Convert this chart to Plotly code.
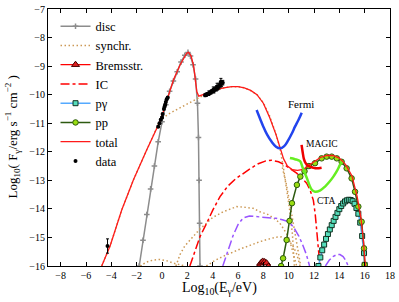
import plotly.graph_objects as go

# ---------------- data ----------------
disc_x = [-1.8, -1.5, -1.2, -0.9, -0.6, -0.3, 0.0, 0.3, 0.6, 0.9, 1.2, 1.5, 1.8, 2.05, 2.25, 2.45, 2.65, 2.8, 2.88, 2.93, 2.97, 3.0]
disc_y = [-16.0, -15.1, -14.2, -13.3, -12.5, -11.65, -10.95, -10.35, -9.88, -9.52, -9.2, -8.86, -8.62, -8.52, -8.65, -8.95, -9.45, -10.3, -11.5, -13.0, -14.5, -16.0]

syn1_x = [-4.76, -4.1, -3.18, -2.26, -1.21, -0.6, -0.15, 0.5, 1.0, 1.5, 2.0, 2.5, 3.0, 3.5, 4.0, 4.5, 5.0, 5.5, 6.0, 6.5, 7.0, 7.5, 8.0, 8.5, 9.0, 9.3, 9.6, 9.85, 10.1, 10.3, 10.45]
syn1_y = [-16.0, -15.3, -14.04, -12.99, -11.94, -11.35, -10.9, -10.68, -10.56, -10.45, -10.33, -10.22, -10.1, -9.97, -9.88, -9.8, -9.75, -9.72, -9.72, -9.76, -9.86, -10.0, -10.28, -10.75, -11.38, -11.85, -12.6, -13.3, -14.1, -14.9, -16.0]
syn2_x = [-1.74, -1.2, -0.68, -0.16, 0.4, 0.9, 1.8]
syn2_y = [-16.0, -15.86, -15.79, -15.77, -15.82, -15.9, -16.0]
syn3_x = [1.1, 1.42, 1.8, 2.47, 3.0, 3.53, 4.0, 4.84, 5.5, 5.9, 6.5, 7.2, 7.73, 8.39, 9.0, 9.3, 9.6, 9.97, 10.2, 10.4, 10.63]
syn3_y = [-16.0, -15.6, -15.3, -14.97, -14.7, -14.5, -14.3, -14.1, -13.97, -13.92, -13.94, -13.98, -14.1, -14.2, -14.38, -14.5, -14.7, -14.97, -15.3, -15.65, -16.0]
syn4_x = [3.5, 4.2, 4.84, 5.5, 6.2, 7.0, 7.7, 8.4, 9.0, 9.4, 9.8, 10.1, 10.4, 10.65, 10.9]
syn4_y = [-16.0, -15.8, -15.66, -15.52, -15.4, -15.27, -15.15, -15.06, -14.99, -14.98, -15.05, -15.15, -15.35, -15.6, -16.0]
syn5_x = [9.5, 9.8, 10.05, 10.3, 10.55, 10.75, 10.95]
syn5_y = [-12.55, -13.1, -13.7, -14.3, -14.9, -15.5, -16.0]

brem_x = [7.65, 7.8, 7.95, 8.1, 8.25, 8.4]
brem_y = [-16.02, -15.9, -15.84, -15.86, -15.9, -16.02]

ic_x = [2.2, 2.6, 3.0, 3.53, 4.0, 4.58, 5.2, 5.8, 6.4, 7.0, 7.6, 8.2, 8.66, 9.2, 9.7, 10.2, 10.63, 11.0, 11.42, 11.7, 11.95, 12.1, 12.25, 12.35, 12.47]
ic_y = [-16.0, -15.5, -14.97, -14.5, -14.05, -13.57, -13.2, -12.95, -12.75, -12.58, -12.42, -12.32, -12.3, -12.35, -12.46, -12.6, -12.75, -12.9, -13.1, -13.35, -13.7, -14.2, -14.85, -15.35, -16.0]

ic2_x = [4.8, 5.2, 5.6, 6.0, 6.4, 6.9, 7.5, 8.0, 8.5, 9.0, 9.5, 10.0, 10.4, 10.8, 11.1, 11.4, 11.65]
ic2_y = [-16.0, -15.45, -14.95, -14.55, -14.32, -14.25, -14.27, -14.28, -14.3, -14.33, -14.38, -14.45, -14.65, -14.95, -15.25, -15.6, -16.0]
ic3_x = [12.9, 13.2, 13.5, 13.8, 14.05, 14.3, 14.5, 14.7]
ic3_y = [-16.0, -15.8, -15.67, -15.6, -15.6, -15.67, -15.8, -16.0]

pg_x = [12.35, 12.5, 12.65, 12.8, 12.95, 13.1, 13.25, 13.4, 13.55, 13.7, 13.85, 14.0, 14.15, 14.3, 14.45, 14.6, 14.75, 14.9, 15.05, 15.2, 15.35, 15.5, 15.65, 15.8, 15.95, 16.0]
pg_y = [-16.0, -15.7, -15.45, -15.25, -15.05, -14.88, -14.72, -14.57, -14.42, -14.28, -14.14, -14.01, -13.9, -13.81, -13.74, -13.7, -13.68, -13.69, -13.73, -13.82, -13.97, -14.17, -14.48, -14.95, -15.55, -15.96]

pp_x = [9.4, 9.56, 9.84, 10.07, 10.26, 10.65, 10.92, 11.25, 11.6, 12.08, 12.6, 13.0, 13.4, 13.8, 14.18, 14.58, 14.97, 15.24, 15.5, 15.76, 15.95, 16.0]
pp_y = [-16.0, -15.73, -15.09, -14.42, -13.8, -13.16, -12.87, -12.68, -12.5, -12.4, -12.23, -12.17, -12.17, -12.23, -12.35, -12.58, -12.93, -13.4, -13.92, -14.45, -15.38, -15.96]

tot_x = [-4.76, -4.1, -3.18, -2.26, -1.21, -0.29, 0.1, 0.5, 0.9, 1.42, 1.95, 2.1, 2.3, 2.5, 2.65, 2.75, 2.9, 3.2, 3.5, 4.0, 4.5, 5.0, 5.5, 6.0, 6.5, 7.0, 7.5, 8.0, 8.5, 9.0, 9.3, 9.6, 9.9, 10.3, 10.7, 11.15, 11.5, 12.0, 12.5, 13.0, 13.5, 14.0, 14.5, 15.0, 15.4, 15.7, 15.9, 16.05]
tot_y = [-16.0, -15.3, -14.04, -12.99, -11.94, -11.06, -10.6, -10.07, -9.49, -8.96, -8.55, -8.52, -8.65, -9.0, -9.5, -9.9, -10.05, -10.0, -9.95, -9.88, -9.8, -9.75, -9.72, -9.72, -9.76, -9.85, -10.0, -10.3, -10.8, -11.4, -11.85, -12.25, -12.5, -12.63, -12.65, -12.62, -12.5, -12.35, -12.2, -12.13, -12.13, -12.22, -12.45, -12.85, -13.55, -14.3, -15.1, -16.0]

data_x = [-4.3, -0.3, -0.2, -0.1, 0.0, 0.05, 0.15, 0.2, 0.25, 0.3, 0.37, 0.45,
          3.4, 3.5, 3.6, 3.7, 3.8, 3.9, 4.0, 4.05, 4.1, 4.2, 4.3, 4.35, 4.4, 4.5, 4.6, 4.65, 4.7, 4.8]
data_y = [-15.3, -11.12, -11.0, -10.88, -10.8, -10.68, -10.5, -10.42, -10.35, -10.26, -10.16, -10.1,
          -10.02, -10.0, -9.98, -9.95, -9.93, -9.9, -9.88, -9.83, -9.86, -9.8, -9.78, -9.72, -9.75, -9.7, -9.65, -9.55, -9.62, -9.58]
data_err = [0.25, 0.03, 0.03, 0.03, 0.03, 0.03, 0.03, 0.03, 0.03, 0.03, 0.03, 0.03,
            0.05, 0.06, 0.05, 0.08, 0.06, 0.07, 0.05, 0.1, 0.08, 0.07, 0.09, 0.12, 0.08, 0.1, 0.09, 0.12, 0.1, 0.08]

fermi_x = [7.47, 7.75, 8.0, 8.3, 8.66, 9.0, 9.31, 9.65, 9.97, 10.25, 10.5, 10.78, 11.03]
fermi_y = [-10.54, -10.85, -11.12, -11.4, -11.65, -11.82, -11.88, -11.8, -11.59, -11.36, -11.12, -10.88, -10.63]
magic_x = [11.02, 11.1, 11.2, 11.34, 11.5, 11.68, 11.95, 12.2, 12.6]
magic_y = [-11.76, -12.0, -12.25, -12.4, -12.48, -12.52, -12.56, -12.58, -12.56]
cta_x = [10.1, 10.5, 10.9, 11.1, 11.42, 11.81, 12.08, 12.5, 12.87, 13.2, 13.53, 13.8, 14.05, 14.2]
cta_y = [-12.22, -12.26, -12.33, -12.55, -12.9, -13.32, -13.4, -13.35, -13.22, -13.06, -12.87, -12.68, -12.46, -12.35]

x_ticks = [-8, -6, -4, -2, 0, 2, 4, 6, 8, 10, 12, 14, 16, 18]
y_ticks = [-16, -15, -14, -13, -12, -11, -10, -9, -8, -7]

# ---------------- figure ----------------
SYN = "#cc9955"
PURP = "#9955ff"
DOTS = "1.5px,2.5px"
FONT = "Liberation Serif"
fig = go.Figure()

fig.add_trace(go.Scatter(x=disc_x, y=disc_y, mode="lines+markers", name="disc",
                         line=dict(color="#8c8c8c", width=1.5),
                         marker=dict(symbol="cross-thin", size=4, color="#8c8c8c",
                                     line=dict(color="#8c8c8c", width=1.5))))
fig.add_trace(go.Scatter(x=syn1_x, y=syn1_y, mode="lines", name="synchr.",
                         line=dict(color=SYN, width=1.5, dash=DOTS)))
for sx, sy in [(syn2_x, syn2_y), (syn3_x, syn3_y), (syn4_x, syn4_y), (syn5_x, syn5_y)]:
    fig.add_trace(go.Scatter(x=sx, y=sy, mode="lines", showlegend=False,
                             line=dict(color=SYN, width=1.5, dash=DOTS)))
fig.add_trace(go.Scatter(x=brem_x, y=brem_y, mode="lines+markers", name="Bremsstr.",
                         line=dict(color="#ff0000", width=1.2),
                         marker=dict(symbol="triangle-up", size=7, color="#dd2222",
                                     line=dict(color="#440000", width=1))))
fig.add_trace(go.Scatter(x=ic_x, y=ic_y, mode="lines", name="IC",
                         line=dict(color="#ff0000", width=1.5, dash="dashdot")))
for px_, py_ in [(ic2_x, ic2_y), (ic3_x, ic3_y)]:
    fig.add_trace(go.Scatter(x=px_, y=py_, mode="lines", showlegend=False,
                             line=dict(color=PURP, width=1.5, dash="dashdot")))
fig.add_trace(go.Scatter(x=pg_x, y=pg_y, mode="lines+markers", name="pγ",
                         line=dict(color="#55aaff", width=1.5),
                         marker=dict(symbol="square", size=5, color="#55ddbb",
                                     line=dict(color="#113322", width=1))))
fig.add_trace(go.Scatter(x=pp_x, y=pp_y, mode="lines+markers", name="pp",
                         line=dict(color="#2d5a10", width=1.5),
                         marker=dict(symbol="circle", size=5.5, color="#99dd11",
                                     line=dict(color="#2d5a10", width=1))))
fig.add_trace(go.Scatter(x=tot_x, y=tot_y, mode="lines", name="total",
                         line=dict(color="#ff1a1a", width=1.3)))
fig.add_trace(go.Scatter(x=data_x, y=data_y, mode="markers", name="data",
                         marker=dict(color="black", size=4),
                         error_y=dict(type="data", array=data_err, color="black",
                                      thickness=1, width=1.5)))
fig.add_trace(go.Scatter(x=fermi_x, y=fermi_y, mode="lines", showlegend=False,
                         line=dict(color="#2244ee", width=2.5, shape="spline")))
fig.add_trace(go.Scatter(x=magic_x, y=magic_y, mode="lines", showlegend=False,
                         line=dict(color="#ee0000", width=2.5, shape="spline")))
fig.add_trace(go.Scatter(x=cta_x, y=cta_y, mode="lines", showlegend=False,
                         line=dict(color="#66ee22", width=2.5, shape="spline")))

for txt, ax, ay, fs in [("Fermi", 10.97, -10.33, 11), ("MAGIC", 12.63, -11.73, 9.5), ("CTA", 12.94, -13.72, 9.5)]:
    fig.add_annotation(x=ax, y=ay, text=txt, showarrow=False,
                       font=dict(family=FONT, size=fs, color="black"))

# axis titles as annotations (placed like the reference)
fig.add_annotation(xref="paper", yref="paper", x=0.5, y=0, xanchor="center", yanchor="top",
                   yshift=-12, showarrow=False,
                   text="Log<sub>10</sub>(E<sub>γ</sub>/eV)",
                   font=dict(family=FONT, size=14, color="black"))
fig.add_annotation(xref="paper", yref="paper", x=0, y=0.5, xanchor="center", yanchor="middle",
                   xshift=-36, textangle=-90, showarrow=False,
                   text="Log<sub>10</sub>( F<sub>γ</sub>/erg s<sup>−1</sup> cm<sup>−2</sup> )",
                   font=dict(family=FONT, size=13, color="black"))

axis_common = dict(showline=True, linecolor="black", linewidth=1, mirror="ticks",
                   ticks="inside", ticklen=4, tickcolor="black", showgrid=False,
                   zeroline=False, automargin=False,
                   tickfont=dict(family=FONT, size=10, color="black"))
fig.update_xaxes(range=[-9, 18], tickvals=x_ticks, ticktext=[f"{v}".replace("-", "−") for v in x_ticks],
                 **axis_common)
fig.update_yaxes(range=[-16, -7], tickvals=y_ticks, ticktext=[f"{v}".replace("-", "−") for v in y_ticks],
                 **axis_common)

fig.update_layout(width=399, height=302, margin=dict(l=48, r=9, t=9, b=36, autoexpand=False),
                  plot_bgcolor="white", paper_bgcolor="white",
                  font=dict(family=FONT, size=11, color="black"),
                  legend=dict(x=0.022, y=0.99, xanchor="left", yanchor="top",
                              bgcolor="rgba(0,0,0,0)", itemwidth=30, tracegroupgap=0,
                              font=dict(family=FONT, size=12.5, color="black")),
                  showlegend=True)

fig.write_html("out.html", config={"displayModeBar": False},
               post_script="document.body.style.margin='0';document.body.style.padding='0';")
